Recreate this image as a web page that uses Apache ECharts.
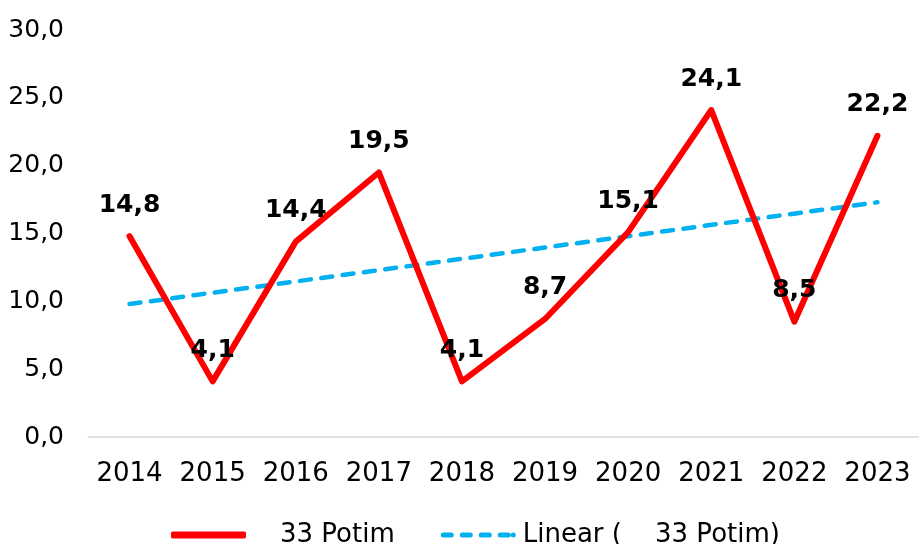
<!DOCTYPE html>
<html>
<head>
<meta charset="utf-8">
<script src="https://cdn.jsdelivr.net/npm/echarts@6/dist/echarts.min.js"></script>
<style>
  html, body { margin: 0; padding: 0; background: #fff; }
  #chart { width: 919px; height: 544px; }
</style>
</head>
<body>
<div id="chart"></div>
<script>
  // 年份
  var years = ['2014', '2015', '2016', '2017', '2018', '2019', '2020', '2021', '2022', '2023']
  // 数值
  var potim = [14.8, 4.1, 14.4, 19.5, 4.1, 8.7, 15.1, 24.1, 8.5, 22.2]
  // 趋势线 起点/终点
  var trendYears = ['2014', '2023']
  var trendValues = [9.8, 17.3]
  // y轴刻度
  var yTicks = [0, 5, 10, 15, 20, 25, 30]

  var fmt = function(v){ return v.toFixed(1).replace('.', ',') }
  var font = 'DejaVu Sans'
  var mainName = '33 Potim'
  var trendName = 'Linear (    33 Potim)'

  // 图例虚线图标
  var dashIcon = 'path://M2.5,0h8a2.5,2.5 0 0 1 0,5h-8a2.5,2.5 0 0 1 0,-5z' +
    'M21.5,0h8a2.5,2.5 0 0 1 0,5h-8a2.5,2.5 0 0 1 0,-5z' +
    'M40.5,0h8a2.5,2.5 0 0 1 0,5h-8a2.5,2.5 0 0 1 0,-5z' +
    'M59.5,0h8a2.5,2.5 0 0 1 0,5h-8a2.5,2.5 0 0 1 0,-5z' +
    'M72.5,0a2.5,2.5 0 0 1 0,5a2.5,2.5 0 0 1 0,-5z'

  var myChart = echarts.init(document.getElementById('chart'))

  var option = {
    animation: false,
    grid: { left: 88, right: -5, top: 30, bottom: 107 },
    xAxis: {
      type: 'category',
      data: years,
      boundaryGap: true,
      axisLine: { lineStyle: { color: '#d9d9d9', width: 1.5 } },
      axisTick: { show: false },
      axisLabel: { color: '#000', fontFamily: font, fontSize: 26, margin: 24, interval: 0 }
    },
    yAxis: {
      type: 'value',
      min: yTicks[0],
      max: yTicks[yTicks.length - 1],
      interval: yTicks[1] - yTicks[0],
      splitLine: { show: false },
      axisLine: { show: false },
      axisTick: { show: false },
      axisLabel: {
        color: '#000', fontFamily: font, fontSize: 25, margin: 24,
        padding: [5, 0, 0, 0],
        formatter: function(v){ return fmt(v) }
      }
    },
    legend: {
      top: 517,
      left: 166,
      itemWidth: 75,
      itemHeight: 7,
      itemGap: 46,
      data: [
        { name: mainName, icon: 'roundRect', itemStyle: { color: '#ff0000' } },
        { name: trendName, icon: dashIcon, itemStyle: { color: '#00b0f0' } }
      ],
      formatter: function(name){
        return name === mainName ? '{p|' + name + '}' : '{q|' + name + '}'
      },
      textStyle: {
        color: '#000', fontFamily: font, fontSize: 26,
        rich: {
          p: { fontFamily: font, fontSize: 26, padding: [0, 0, 0, 29] },
          q: { fontFamily: font, fontSize: 26, padding: [0, 0, 0, 2] }
        }
      }
    },
    series: [
      {
        name: mainName,
        type: 'line',
        data: potim,
        symbol: 'circle',
        symbolSize: 1,
        showSymbol: true,
        z: 3,
        lineStyle: { color: '#ff0000', width: 6, join: 'round', cap: 'round' },
        itemStyle: { color: '#ff0000' },
        label: {
          show: true,
          position: 'top',
          distance: 18,
          color: '#000',
          fontFamily: font,
          fontWeight: 'bold',
          fontSize: 25,
          formatter: function(p){ return fmt(p.value) }
        }
      },
      {
        name: trendName,
        type: 'line',
        data: trendYears.map(function(y, i){ return [y, trendValues[i]] }),
        symbol: 'none',
        z: 2,
        lineStyle: { color: '#00b0f0', width: 4.5, type: [11, 10.5], cap: 'round' },
        itemStyle: { color: '#00b0f0' }
      }
    ]
  }

  myChart.setOption(option)
</script>
</body>
</html>
